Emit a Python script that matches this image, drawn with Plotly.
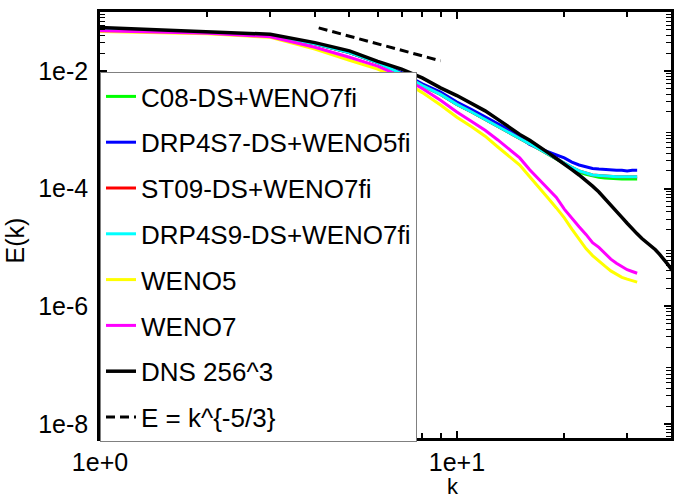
import numpy as np
import plotly.graph_objects as go

# wavenumbers
k_les = list(range(1, 33))
k_dns = list(range(1, 42))

# log10 E(k)
dns_log = [-1.265, -1.33, -1.377, -1.52, -1.66, -1.84, -1.97, -2.12, -2.29, -2.42,
           -2.557, -2.68, -2.82, -2.96, -3.08, -3.18, -3.28, -3.39, -3.49, -3.58,
           -3.68, -3.77, -3.86, -3.96, -4.06, -4.17, -4.27, -4.38, -4.49, -4.59,
           -4.69, -4.77, -4.85, -4.91, -4.98, -5.04, -5.12, -5.20, -5.29, -5.38,
           -5.47]
drp4s7_log = [-1.30, -1.35, -1.40, -1.54, -1.69, -1.86, -2.03, -2.22, -2.36, -2.53,
              -2.66, -2.78, -2.895, -3.00, -3.12, -3.25, -3.32, -3.37, -3.43, -3.48,
              -3.55, -3.60, -3.63, -3.66, -3.67, -3.68, -3.69, -3.69, -3.69, -3.70,
              -3.69, -3.69]
drp4s9_log = [-1.30, -1.35, -1.40, -1.54, -1.69, -1.86, -2.05, -2.25, -2.40, -2.57,
              -2.70, -2.83, -2.95, -3.05, -3.15, -3.24, -3.33, -3.41, -3.50, -3.57,
              -3.64, -3.70, -3.74, -3.77, -3.78, -3.79, -3.80, -3.80, -3.80, -3.80,
              -3.80, -3.80]
c08_log = [-1.30, -1.35, -1.40, -1.54, -1.69, -1.86, -2.05, -2.25, -2.40, -2.57,
           -2.70, -2.83, -2.95, -3.05, -3.15, -3.24, -3.33, -3.41, -3.50, -3.58,
           -3.65, -3.72, -3.76, -3.79, -3.81, -3.82, -3.83, -3.84, -3.84, -3.84,
           -3.84, -3.84]
st09_log = [-1.30, -1.35, -1.40, -1.54, -1.69, -1.86, -2.05, -2.25, -2.40, -2.57,
            -2.70, -2.83, -2.95, -3.05, -3.15, -3.24, -3.33, -3.41, -3.50, -3.57,
            -3.64, -3.70, -3.74, -3.77, -3.78, -3.79, -3.80, -3.80, -3.80, -3.80,
            -3.80, -3.80]
weno5_log = [-1.33, -1.37, -1.43, -1.63, -1.82, -1.97, -2.15, -2.37, -2.58, -2.79,
             -2.95, -3.11, -3.29, -3.45, -3.60, -3.80, -3.98, -4.16, -4.33, -4.50,
             -4.69, -4.85, -5.02, -5.14, -5.24, -5.32, -5.40, -5.46, -5.51, -5.54,
             -5.57, -5.59]
weno7_log = [-1.32, -1.36, -1.42, -1.60, -1.77, -1.92, -2.10, -2.30, -2.50, -2.70,
             -2.86, -3.01, -3.17, -3.33, -3.48, -3.68, -3.85, -4.00, -4.15, -4.35,
             -4.51, -4.65, -4.78, -4.92, -5.00, -5.10, -5.20, -5.27, -5.33, -5.38,
             -5.41, -5.44]
# reference slope line endpoints
ref_k = [4.1, 9.0]
ref_log = [-1.27, -1.83]

series = [
    ("C08-DS+WENO7fi", k_les, c08_log, "#00ff00", 3, "solid"),
    ("DRP4S7-DS+WENO5fi", k_les, drp4s7_log, "#0000ff", 3, "solid"),
    ("ST09-DS+WENO7fi", k_les, st09_log, "#ff0000", 3, "solid"),
    ("DRP4S9-DS+WENO7fi", k_les, drp4s9_log, "#00ffff", 3, "solid"),
    ("WENO5", k_les, weno5_log, "#ffff00", 3, "solid"),
    ("WENO7", k_les, weno7_log, "#ff00ff", 3, "solid"),
    ("DNS 256^3", k_dns, dns_log, "#000000", 3.5, "solid"),
    ("E = k^{-5/3}", ref_k, ref_log, "#000000", 3, "9px,5px"),
]

fig = go.Figure()
for i, (name, kk, lg, col, w, dash) in enumerate(series):
    fig.add_trace(go.Scatter(
        x=kk, y=np.power(10.0, np.array(lg)), mode="lines", name=name,
        legendgroup="g%d" % i,
        line=dict(color=col, width=w, dash=dash),
    ))

FONT = "Liberation Sans, Arial, sans-serif"

x_minor = [2, 3, 4, 5, 6, 7, 8, 9, 20, 30, 40]
y_minor = [m * 10.0 ** e for e in range(-9, -1) for m in range(2, 10)]

fig.update_layout(
    width=677, height=500,
    margin=dict(l=100, r=3, t=12, b=62),
    paper_bgcolor="white", plot_bgcolor="white",
    font=dict(family=FONT, size=25, color="black"),
    showlegend=True,
    legend=dict(
        x=0, y=(438 - 72) / 426, xanchor="left", yanchor="top",
        bgcolor="white", bordercolor="#808080", borderwidth=1,
        font=dict(family=FONT, size=26, color="black"),
        tracegroupgap=9, itemwidth=30,
    ),
    xaxis=dict(
        type="log", range=[0, 1.6],
        showgrid=False, zeroline=False,
        showline=True, linecolor="black", linewidth=2.5, mirror="allticks",
        ticks="inside", ticklen=7, tickwidth=2, tickcolor="black",
        tickvals=[1, 10], ticktext=["1e+0", "1e+1"],
        ticklabelstandoff=0,
        minor=dict(tickmode="array", tickvals=x_minor, ticks="inside", ticklen=5,
                   tickwidth=2, tickcolor="black", showgrid=False),
    ),
    yaxis=dict(
        type="log", range=[-8.24, -1.0],
        showgrid=False, zeroline=False,
        showline=True, linecolor="black", linewidth=2.5, mirror="allticks",
        ticks="inside", ticklen=7, tickwidth=2, tickcolor="black",
        tickvals=[1e-8, 1e-6, 1e-4, 1e-2], ticktext=["1e-8", "1e-6", "1e-4", "1e-2"],
        ticklabelstandoff=4,
        minor=dict(tickmode="array", tickvals=y_minor, ticks="inside", ticklen=5,
                   tickwidth=1, tickcolor="black", showgrid=False),
    ),
    annotations=[
        dict(text="E(k)", xref="paper", yref="paper", x=(15 - 100) / 574,
             y=(438 - 240) / 426, xanchor="center", yanchor="middle",
             showarrow=False, textangle=-90,
             font=dict(family=FONT, size=25, color="black")),
        dict(text="k", xref="paper", yref="paper", x=(455 - 100) / 574,
             y=(438 - 486) / 426, xanchor="center", yanchor="middle",
             showarrow=False,
             font=dict(family=FONT, size=22, color="black")),
    ],
)

fig.write_html("out.html")
